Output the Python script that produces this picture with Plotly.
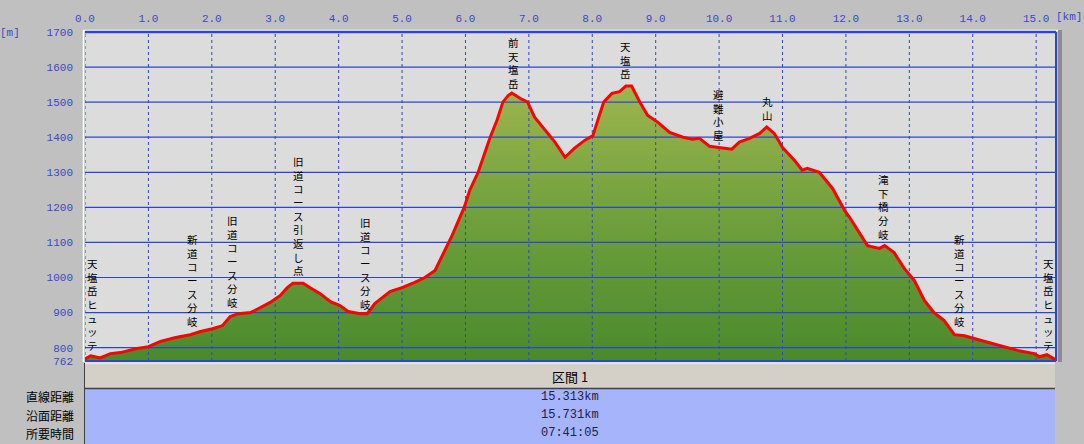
import plotly.graph_objects as go

# ---------------- data ----------------
dist_km = [0.00, 0.09, 0.24, 0.40, 0.56, 0.80, 1.00, 1.19, 1.43, 1.66, 1.82, 2.01, 2.17, 2.29,
           2.42, 2.61, 2.73, 2.92, 3.08, 3.19, 3.28, 3.44, 3.55, 3.71, 3.87, 4.02, 4.15, 4.34,
           4.45, 4.57, 4.81, 5.00, 5.20, 5.36, 5.52, 5.68, 5.79, 5.98, 6.07, 6.20, 6.29, 6.39,
           6.50, 6.59, 6.67, 6.73, 6.86, 6.98, 7.09, 7.25, 7.41, 7.57, 7.72, 7.88, 8.01, 8.18,
           8.31, 8.43, 8.53, 8.62, 8.75, 8.87, 9.03, 9.22, 9.43, 9.58, 9.69, 9.85, 10.09, 10.20,
           10.32, 10.48, 10.64, 10.75, 10.87, 11.00, 11.19, 11.31, 11.39, 11.58, 11.79, 11.98,
           12.06, 12.21, 12.34, 12.53, 12.61, 12.76, 12.92, 13.08, 13.24, 13.39, 13.55, 13.71,
           13.87, 14.02, 14.26, 14.50, 14.73, 14.97, 15.05, 15.17, 15.30]
elev_m = [768, 777, 771, 783, 786, 797, 803, 818, 829, 837, 846, 854, 863, 889,
          897, 900, 911, 929, 949, 971, 984, 984, 971, 954, 931, 920, 903, 897,
          897, 926, 960, 971, 986, 1000, 1020, 1080, 1120, 1200, 1250, 1300, 1350, 1400,
          1450, 1500, 1518, 1526, 1511, 1500, 1457, 1420, 1386, 1343, 1369, 1391, 1405, 1500,
          1525, 1530, 1546, 1546, 1500, 1463, 1443, 1414, 1400, 1394, 1397, 1374, 1369, 1366,
          1386, 1397, 1411, 1429, 1411, 1371, 1334, 1306, 1311, 1300, 1254, 1191,
          1171, 1126, 1091, 1083, 1091, 1071, 1026, 991, 934, 900, 877, 837,
          834, 826, 814, 803, 791, 783, 774, 780, 766]

x_ticks = [0, 1, 2, 3, 4, 5, 6, 7, 8, 9, 10, 11, 12, 13, 14, 15]
x_tick_text = ["0.0", "1.0", "2.0", "3.0", "4.0", "5.0", "6.0", "7.0", "8.0", "9.0",
               "10.0", "11.0", "12.0", "13.0", "14.0", "15.0"]
y_ticks = [762, 800, 900, 1000, 1100, 1200, 1300, 1400, 1500, 1600, 1700]
y_tick_text = ["762", "800", "900", "1000", "1100", "1200", "1300", "1400", "1500", "1600", "1700"]

place_names = ["天塩岳ヒュッテ", "新道コース分岐", "旧道コース分岐", "旧道コース引返し点", "旧道コース分岐",
               "前天塩岳", "天塩岳", "避難小屋", "丸山", "滝下橋分岐", "新道コース分岐", "天塩岳ヒュッテ"]
place_km = [0.12, 1.69, 2.32, 3.36, 4.42, 6.75, 8.53, 9.99, 10.76, 12.59, 13.79, 15.20]
place_elev = [923, 992, 1045, 1176, 1041, 1613, 1619, 1463, 1481, 1200, 992, 923]

section_title = "区間 1"
table_labels = ["直線距離", "沿面距離", "所要時間"]
table_values = ["15.313km", "15.731km", "07:41:05"]

X_MAX = 15.313
Y_MIN, Y_MAX = 762, 1700

# ---------------- layout helpers ----------------
W, H = 1084, 444
ML, MR, MT, MB = 85, 28, 32, 83
PW, PH = W - ML - MR, H - MT - MB


def py(ypix):
    return (H - MB - ypix) / PH


def px(xpix):
    return (xpix - ML) / PW


BLUE = "#2c44d4"
TXTBLUE = "#3a48c8"

fig = go.Figure()

# filled profile
fig.add_trace(go.Scatter(
    x=dist_km, y=elev_m, mode="lines", line=dict(width=0, color="rgba(0,0,0,0)"),
    fill="tozeroy",
    fillgradient=dict(type="vertical", start=Y_MIN, stop=1546,
                      colorscale=[[0, "#4a8a2c"], [0.5, "#6e9f3c"], [1, "#9db54e"]]),
    hoverinfo="skip", showlegend=False))

# horizontal grid (solid) above the fill
gx, gy = [], []
for v in y_ticks[1:-1]:
    gx += [0, X_MAX, None]
    gy += [v, v, None]
fig.add_trace(go.Scatter(x=gx, y=gy, mode="lines", line=dict(color=BLUE, width=1.2),
                         hoverinfo="skip", showlegend=False))
# vertical grid (dotted)
vx, vy = [], []
for v in x_ticks:
    vx += [v, v, None]
    vy += [Y_MIN, Y_MAX, None]
fig.add_trace(go.Scatter(x=vx, y=vy, mode="lines", line=dict(color=BLUE, width=1, dash="dot"),
                         hoverinfo="skip", showlegend=False))

# red profile line
fig.add_trace(go.Scatter(x=dist_km, y=elev_m, mode="lines", line=dict(color="#ff0000", width=3),
                         showlegend=False))

annotations = []
for name, k, e in zip(place_names, place_km, place_elev):
    annotations.append(dict(x=k, y=e, xref="x", yref="y", text="<br>".join(list(name)),
                            showarrow=False, xanchor="center", yanchor="middle",
                            font=dict(family="Noto Sans CJK JP", size=10.5, color="#000000")))

annotations.append(dict(x=px(10), y=py(33), xref="paper", yref="paper", text="[m]",
                        showarrow=False, xanchor="center", yanchor="middle",
                        font=dict(family="Liberation Mono", size=11, color=TXTBLUE)))
annotations.append(dict(x=px(1069), y=py(17), xref="paper", yref="paper", text="[km]",
                        showarrow=False, xanchor="center", yanchor="middle",
                        font=dict(family="Liberation Mono", size=11, color=TXTBLUE)))

# table
annotations.append(dict(x=px(570), y=py(376), xref="paper", yref="paper", text=section_title,
                        showarrow=False, xanchor="center", yanchor="middle",
                        font=dict(family="Noto Sans CJK JP", size=13, color="#000000")))
for i, (lab, val) in enumerate(zip(table_labels, table_values)):
    yy = py(397 + i * 18)
    annotations.append(dict(x=px(76), y=yy, xref="paper", yref="paper", text=lab,
                            showarrow=False, xanchor="right", yanchor="middle",
                            font=dict(family="Noto Sans CJK JP", size=12, color="#000000")))
    annotations.append(dict(x=px(570), y=yy, xref="paper", yref="paper", text=val,
                            showarrow=False, xanchor="center", yanchor="middle",
                            font=dict(family="Liberation Mono", size=12, color="#20204a")))

shapes = [
    # table header
    dict(type="rect", xref="paper", yref="paper", x0=px(85), x1=px(1055), y0=py(388), y1=py(363),
         fillcolor="#d4d0c8", line=dict(width=0), layer="below"),
    dict(type="line", xref="paper", yref="paper", x0=px(85), x1=px(1055), y0=py(363), y1=py(363),
         line=dict(color="#ffffff", width=1)),
    dict(type="line", xref="paper", yref="paper", x0=px(85), x1=px(1055), y0=py(388.5), y1=py(388.5),
         line=dict(color="#404040", width=1.5)),
    # table body
    dict(type="rect", xref="paper", yref="paper", x0=px(85), x1=px(1055), y0=py(444), y1=py(389),
         fillcolor="#a6b4fc", line=dict(width=0), layer="below"),
    dict(type="line", xref="paper", yref="paper", x0=px(84.5), x1=px(84.5), y0=py(444), y1=py(363),
         line=dict(color="#404040", width=1)),
    # frame around plot
    dict(type="line", xref="paper", yref="paper", x0=px(83), x1=px(1058), y0=py(30.5), y1=py(30.5),
         line=dict(color="#ffffff", width=1.5)),
    dict(type="line", xref="paper", yref="paper", x0=px(83.5), x1=px(83.5), y0=py(362), y1=py(30.5),
         line=dict(color="#ffffff", width=1.5)),
    dict(type="line", xref="paper", yref="paper", x0=0, x1=1, y0=1, y1=1,
         line=dict(color=BLUE, width=2.5)),
    dict(type="line", xref="paper", yref="paper", x0=0, x1=1, y0=0, y1=0,
         line=dict(color=BLUE, width=2)),
    dict(type="line", xref="paper", yref="paper", x0=1, x1=1, y0=0, y1=1,
         line=dict(color=BLUE, width=2)),
    dict(type="rect", xref="paper", yref="paper", x0=px(1058), x1=px(1062), y0=py(362), y1=py(30),
         fillcolor="#8c8c8c", line=dict(width=0)),
]

fig.update_layout(
    width=W, height=H,
    margin=dict(l=ML, r=MR, t=MT, b=MB),
    paper_bgcolor="#c0c0c0", plot_bgcolor="#dcdcdc",
    showlegend=False,
    xaxis=dict(range=[0, X_MAX], side="top", tickvals=x_ticks, ticktext=x_tick_text,
               showgrid=False, zeroline=False, showline=False, ticks="",
               ticklabelstandoff=7,
               tickfont=dict(family="Liberation Mono", size=11, color=TXTBLUE), fixedrange=True),
    yaxis=dict(range=[Y_MIN, Y_MAX], tickvals=y_ticks, ticktext=y_tick_text,
               showgrid=False, zeroline=False, showline=False, ticks="",
               ticklabelstandoff=11,
               tickfont=dict(family="Liberation Mono", size=11, color=TXTBLUE), fixedrange=True),
    annotations=annotations,
    shapes=shapes,
)

fig.write_html("out.html", config={"displayModeBar": False},
               post_script="document.body.style.margin='0';document.body.style.overflow='hidden';")
